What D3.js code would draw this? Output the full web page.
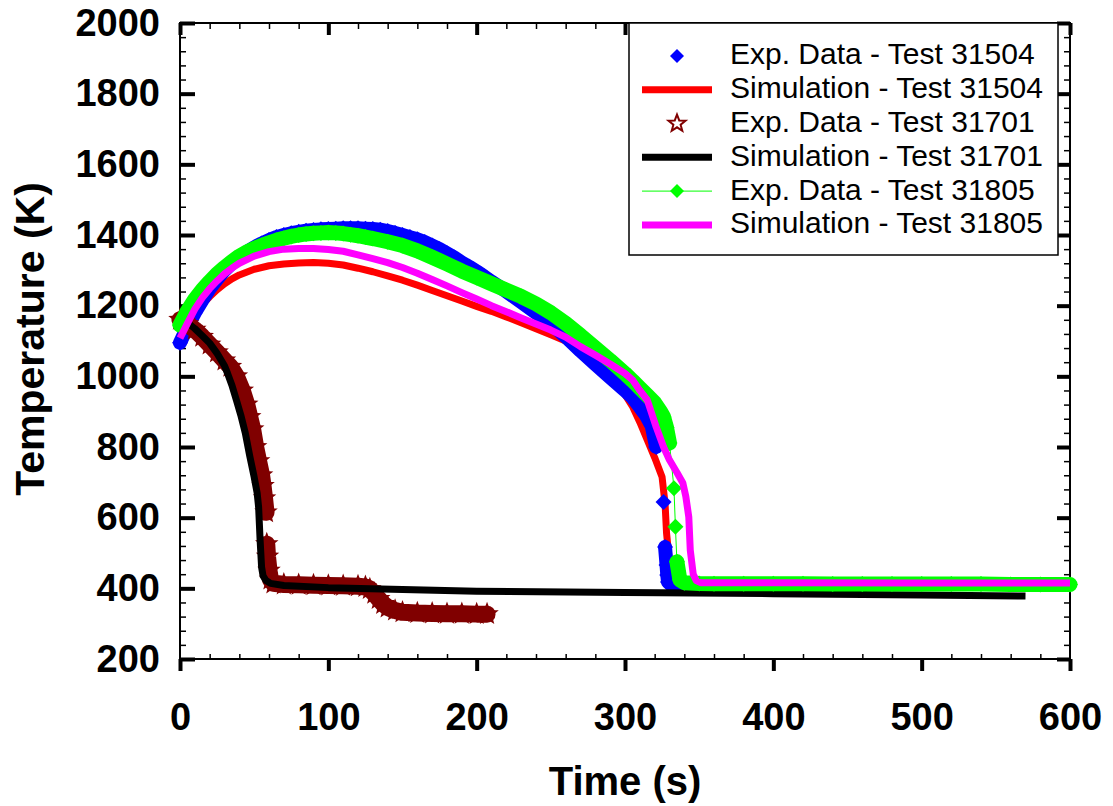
<!DOCTYPE html>
<html>
<head>
<meta charset="utf-8">
<script src="https://cdn.jsdelivr.net/npm/d3@7"></script>
<style>
  body { margin: 0; background: #fff; }
  svg text { font-family: "Liberation Sans", Arial, sans-serif; }
</style>
</head>
<body>
<svg id="chart" width="1113" height="806"></svg>
<script>
// tick labels
var timeTicks = [0, 100, 200, 300, 400, 500, 600];
var tempTicks = [200, 400, 600, 800, 1000, 1200, 1400, 1600, 1800, 2000];

// series names (legend order)
var seriesNames = [
  "Exp. Data - Test 31504",
  "Simulation - Test 31504",
  "Exp. Data - Test 31701",
  "Simulation - Test 31701",
  "Exp. Data - Test 31805",
  "Simulation - Test 31805"
];

// [time (s), temperature (K)]
var exp31504 = [[0,1095],[5,1140],[10,1180],[15,1215],[20,1248],[25,1275],[30,1300],[35,1320],[40,1337],[45,1352],
  [50,1365],[55,1376],[60,1386],[65,1394],[70,1400],[75,1405],[80,1409],[85,1412],[90,1414],[95,1416],[100,1417],
  [105,1418],[110,1419],[115,1419],[120,1419],[125,1418],[130,1417],[135,1415],[140,1411],[145,1406],[150,1400],
  [155,1394],[160,1388],[165,1380],[170,1370],[175,1360],[180,1348],[185,1336],[190,1322],[195,1310],[200,1297],
  [205,1283],[210,1268],[220,1240],[230,1210],[240,1180],[250,1150],[260,1112],[270,1072],[280,1034],[290,997],
  [300,960],[305,940],[310,913],[314,890],[318,860],[321,800],[326,644],[327,517],[328,466],[328.5,438],[329,418],
  [331,410],[334,405],[338,403]];

var sim31504 = [[0,1103],[5,1145],[10,1178],[15,1203],[20,1225],[25,1245],[30,1262],[35,1276],[40,1287],[50,1303],
  [60,1313],[70,1318],[80,1321],[90,1322],[100,1320],[110,1315],[120,1306],[130,1296],[140,1284],[150,1272],
  [160,1258],[170,1243],[180,1228],[190,1213],[200,1198],[210,1184],[220,1168],[230,1152],[240,1135],[250,1118],
  [260,1100],[270,1075],[280,1045],[290,1005],[295,978],[300,948],[305,915],[310,870],[315,820],[320,770],
  [325,715],[327,640],[328,557],[330,472],[332,430],[334,415],[338,410],[345,408]];

var exp31701 = [[0,1160],[5,1148],[10,1132],[15,1112],[20,1090],[25,1068],[30,1045],[34,1027],[38,1000],[42,960],
  [45,920],[47,885],[49,850],[51,800],[53,760],[55,720],[56,690],[57,655],[58,615],[58.5,525],[59,490],[60,450],
  [61,425],[63,414],[70,411],[80,410],[90,409],[100,408],[110,407],[120,406],[125,404],[128,398],[131,385],
  [134,370],[137,356],[140,346],[145,337],[150,332],[160,330],[170,329],[180,328],[190,328],[200,327],[207,327]];

var sim31701 = [[0,1165],[5,1152],[10,1135],[15,1115],[20,1094],[25,1065],[30,1030],[32,1009],[35,975],[38,933],
  [41,890],[44,840],[47,775],[50,715],[52,670],[53,630],[54,537],[55,460],[56,435],[58,422],[61,414],[70,408],
  [100,402],[150,397],[200,392],[300,388],[400,385],[500,381],[570,378]];

var exp31805 = [[0,1145],[5,1185],[10,1218],[15,1245],[20,1268],[25,1290],[30,1308],[35,1325],[40,1340],[45,1352],
  [50,1362],[55,1370],[60,1378],[65,1385],[70,1391],[75,1396],[80,1400],[85,1403],[90,1405],[95,1406],[100,1407],
  [105,1406],[110,1404],[115,1401],[120,1398],[125,1394],[130,1390],[140,1381],[150,1370],[160,1355],[170,1337],
  [180,1318],[190,1298],[200,1280],[210,1262],[220,1244],[230,1226],[240,1205],[250,1180],[260,1150],[270,1116],
  [280,1080],[290,1045],[300,1008],[305,988],[310,967],[315,946],[320,925],[324,900],[326,885],[328,855],[330,811],
  [333,683],[334,574],[335,475],[337,424],[340,416],[350,414],[360,413],[380,413],[400,413],[420,413],[440,412],
  [460,412],[480,412],[500,412],[520,412],[540,412],[560,411],[580,411],[600,411]];

var sim31805 = [[0,1108],[5,1150],[10,1190],[15,1222],[20,1248],[25,1270],[30,1290],[35,1306],[40,1320],[50,1340],
  [60,1353],[70,1360],[80,1362],[90,1362],[100,1359],[110,1354],[120,1344],[130,1333],[140,1322],[150,1308],
  [160,1292],[170,1274],[180,1256],[190,1237],[200,1219],[210,1200],[220,1183],[230,1165],[240,1148],[250,1131],
  [260,1111],[270,1084],[280,1060],[290,1035],[300,1008],[305,990],[310,960],[315,933],[321,857],[326,800],
  [330,763],[335,728],[339,698],[341,660],[343,602],[344,508],[346,440],[348,422],[351,416],[400,416],[500,415],
  [600,415]];

var font = '"Liberation Sans", Arial, sans-serif';

var svg = d3.select("#chart");

var x = d3.scaleLinear().domain([0, 600]).range([180, 1070]);
var y = d3.scaleLinear().domain([200, 2000]).range([659, 23]);

var timeMinor = d3.range(0, 601, 20).filter(function (v) { return v % 100 !== 0; });
var tempMinor = d3.range(200, 2001, 40).filter(function (v) { return v % 200 !== 0; });

// axes: majors thick, minors thin
function axisGroup(axis, tx, ty, width, withText) {
  var g = svg.append("g")
    .attr("transform", "translate(" + tx + "," + ty + ")")
    .call(axis);
  g.select(".domain").remove();
  g.selectAll(".tick line").attr("stroke", "#000").attr("stroke-width", width);
  if (withText) {
    g.selectAll(".tick text")
      .attr("font-size", 38)
      .attr("font-weight", "bold")
      .attr("font-family", font)
      .attr("fill", "#000");
  } else {
    g.selectAll(".tick text").remove();
  }
  return g;
}

// bottom
axisGroup(d3.axisBottom(x).tickValues(timeTicks).tickSize(12).tickPadding(32).tickFormat(d3.format("d")), 0, 659, 4, true);
axisGroup(d3.axisBottom(x).tickValues(timeMinor).tickSize(-5), 0, 659, 1.5, false);
// top
axisGroup(d3.axisTop(x).tickValues(timeTicks).tickSize(-12), 0, 23, 4, false);
axisGroup(d3.axisTop(x).tickValues(timeMinor).tickSize(-6), 0, 23, 1.5, false);
// left
axisGroup(d3.axisLeft(y).tickValues(tempTicks).tickSize(-15).tickPadding(20).tickFormat(d3.format("d")), 180, 0, 4, true);
axisGroup(d3.axisLeft(y).tickValues(tempMinor).tickSize(-6), 180, 0, 1.5, false);
// right
axisGroup(d3.axisRight(y).tickValues(tempTicks).tickSize(-13), 1070, 0, 4, false);
axisGroup(d3.axisRight(y).tickValues(tempMinor).tickSize(-6), 1070, 0, 1.5, false);

// frame
svg.append("rect")
  .attr("x", 180).attr("y", 23)
  .attr("width", 890).attr("height", 636)
  .attr("fill", "none").attr("stroke", "#000").attr("stroke-width", 2);

// axis titles
svg.append("text")
  .attr("x", 625).attr("y", 795)
  .attr("text-anchor", "middle")
  .attr("font-size", 40).attr("font-weight", "bold")
  .text("Time (s)");

svg.append("text")
  .attr("transform", "translate(44,339) rotate(-90)")
  .attr("text-anchor", "middle")
  .attr("font-size", 41).attr("font-weight", "bold")
  .text("Temperature (K)");

// marker shapes
function diamondPath(r) {
  return "M0," + (-r) + "L" + r + ",0L0," + r + "L" + (-r) + ",0Z";
}
function starPath(R, r) {
  var p = [];
  for (var i = 0; i < 10; i++) {
    var a = -Math.PI / 2 + i * Math.PI / 5;
    var rr = i % 2 === 0 ? R : r;
    p.push([rr * Math.cos(a), rr * Math.sin(a)]);
  }
  return "M" + p.map(function (d) { return d[0].toFixed(2) + "," + d[1].toFixed(2); }).join("L") + "Z";
}

var line = d3.line()
  .x(function (d) { return x(d[0]); })
  .y(function (d) { return y(d[1]); });

// densely sampled markers merge into a band: join neighbours that sit close together
function runs(data, maxGap) {
  var out = [], cur = [data[0]];
  for (var i = 1; i < data.length; i++) {
    var dx = x(data[i][0]) - x(data[i - 1][0]);
    var dy = y(data[i][1]) - y(data[i - 1][1]);
    if (Math.sqrt(dx * dx + dy * dy) < maxGap) cur.push(data[i]);
    else { out.push(cur); cur = [data[i]]; }
  }
  out.push(cur);
  return out.filter(function (r) { return r.length > 1; });
}

function drawBand(data, color, w) {
  svg.append("g").selectAll("path")
    .data(runs(data, 30))
    .join("path")
    .attr("d", line)
    .attr("fill", "none")
    .attr("stroke", color)
    .attr("stroke-width", w)
    .attr("stroke-linejoin", "round")
    .attr("stroke-linecap", "round");
}

function drawMarkers(data, path, fill, stroke, sw) {
  svg.append("g").selectAll("path")
    .data(data)
    .join("path")
    .attr("transform", function (d) { return "translate(" + x(d[0]) + "," + y(d[1]) + ")"; })
    .attr("d", path)
    .attr("fill", fill)
    .attr("stroke", stroke)
    .attr("stroke-width", sw);
}

function drawSim(data, color) {
  svg.append("path")
    .datum(data)
    .attr("d", line)
    .attr("fill", "none")
    .attr("stroke", color)
    .attr("stroke-width", 7)
    .attr("stroke-linejoin", "round");
}

// plotting order as in the picture
drawSim(sim31504, "#ff0000");

drawBand(exp31504, "#0000ff", 14);
drawMarkers(exp31504, diamondPath(8), "#0000ff", "none", 0);

drawBand(exp31701, "#800000", 17);
drawMarkers(exp31701, starPath(9.5, 4), "none", "#800000", 2);

drawSim(sim31701, "#000000");

drawBand(exp31805, "#00ff00", 15);
svg.append("path").datum(exp31805).attr("d", line)
  .attr("fill", "none").attr("stroke", "#00ff00").attr("stroke-width", 1);
drawMarkers(exp31805, diamondPath(8), "#00ff00", "none", 0);

drawSim(sim31805, "#ff00ff");

// legend
var lg = svg.append("g");
lg.append("rect")
  .attr("x", 629).attr("y", 23)
  .attr("width", 429).attr("height", 232)
  .attr("fill", "#fff").attr("stroke", "#000").attr("stroke-width", 1.5);

var legendColors = ["#0000ff", "#ff0000", "#800000", "#000000", "#00ff00", "#ff00ff"];
seriesNames.forEach(function (name, i) {
  var base = 64.3 + i * 33.8;
  var cy = base - 8.4;
  var row = lg.append("g");
  if (i === 1 || i === 3 || i === 5) {
    row.append("line").attr("x1", 642).attr("x2", 712).attr("y1", cy).attr("y2", cy)
      .attr("stroke", legendColors[i]).attr("stroke-width", 7);
  } else if (i === 0) {
    row.append("path").attr("transform", "translate(677," + cy + ")")
      .attr("d", diamondPath(7)).attr("fill", legendColors[i]);
  } else if (i === 2) {
    row.append("path").attr("transform", "translate(677," + cy + ")")
      .attr("d", starPath(9, 3.8)).attr("fill", "none")
      .attr("stroke", legendColors[i]).attr("stroke-width", 2);
  } else {
    row.append("line").attr("x1", 642).attr("x2", 712).attr("y1", cy).attr("y2", cy)
      .attr("stroke", legendColors[i]).attr("stroke-width", 1);
    row.append("path").attr("transform", "translate(677," + cy + ")")
      .attr("d", diamondPath(7)).attr("fill", legendColors[i]);
  }
  row.append("text")
    .attr("x", 730).attr("y", base)
    .attr("font-size", 30)
    .attr("fill", "#000")
    .text(name);
});
</script>
</body>
</html>
